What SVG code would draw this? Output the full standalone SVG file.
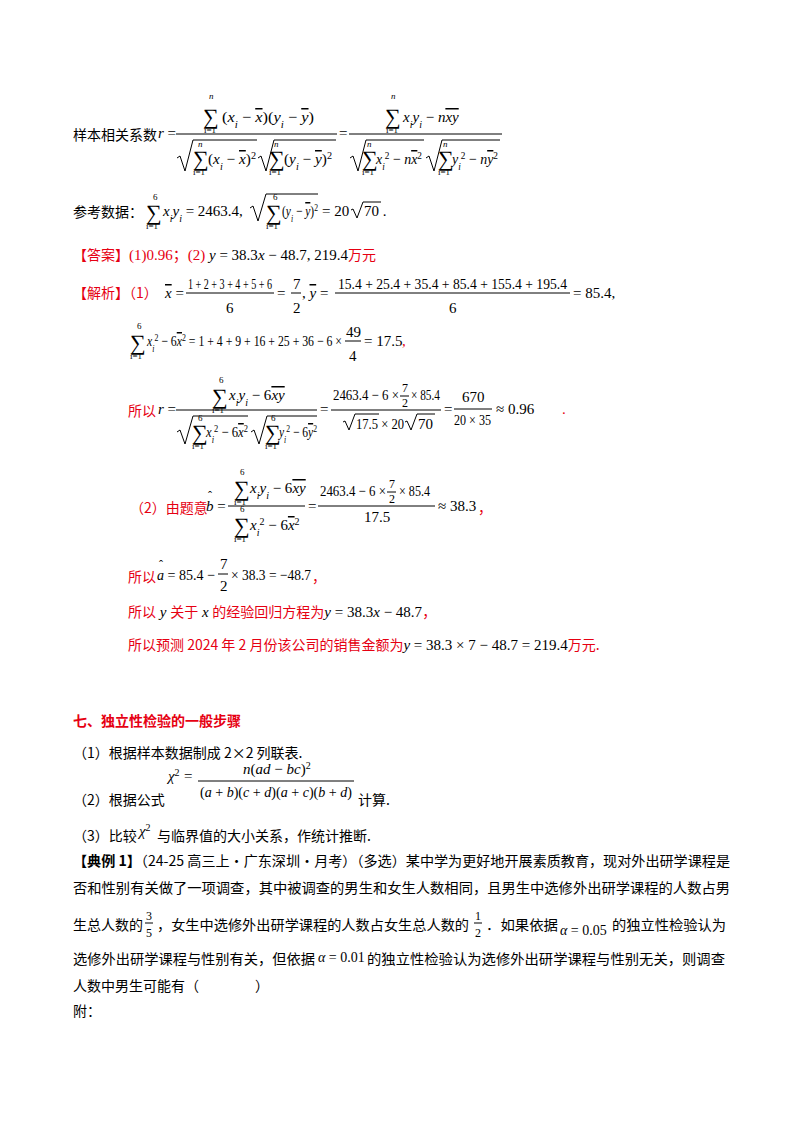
<svg xmlns="http://www.w3.org/2000/svg" width="800" height="1132" viewBox="0 0 800 1132">
<style>
text{font-family:"Liberation Serif","Noto Sans CJK SC",serif;font-size:15px;fill:#000}
.c{font-family:"Noto Sans CJK SC","Liberation Sans",sans-serif;font-size:14px}
.r{fill:#e60012}
.k{fill:#000}
.b{font-weight:bold}
.i{font-style:italic}
.s{font-size:9px}
.f{font-size:12px}
.S{font-size:22px}
.sub{font-size:10px;baseline-shift:sub}
.sup{font-size:10px;baseline-shift:super}
.o{text-decoration:overline}
.bar{stroke:#000;stroke-width:1}
.rad{fill:none;stroke:#000;stroke-width:1}
</style>
<rect width="800" height="1132" fill="#fff"/>
<g id="formula-r">
<text class="c" x="73" y="140">样本相关系数</text>
<text x="158" y="138"><tspan class="i">r</tspan> =</text>
<text class="S" x="203" y="124">∑</text><text class="s i" x="209" y="99">n</text><text class="s" x="204" y="133">i=1</text>
<text x="222" y="122" textLength="92" lengthAdjust="spacingAndGlyphs">(<tspan class="i">x</tspan><tspan class="sub i">i</tspan> − <tspan class="i o">x</tspan>)(<tspan class="i">y</tspan><tspan class="sub i">i</tspan> − <tspan class="i o">y</tspan>)</text>
<line class="bar" x1="176" y1="134" x2="337" y2="134"/>
<path class="rad" d="M177 158 l3 -2 l5 15 l8 -31 h64"/>
<text class="S" x="193" y="166">∑</text><text class="s i" x="198" y="147">n</text><text class="s" x="193" y="175">i=1</text>
<text x="208" y="164" textLength="48" lengthAdjust="spacingAndGlyphs">(<tspan class="i">x</tspan><tspan class="sub i">i</tspan> − <tspan class="i o">x</tspan>)<tspan class="sup">2</tspan></text>
<path class="rad" d="M258 158 l3 -2 l5 15 l8 -31 h62"/>
<text class="S" x="269" y="166">∑</text><text class="s i" x="274" y="147">n</text><text class="s" x="269" y="175">i=1</text>
<text x="284" y="164" textLength="48" lengthAdjust="spacingAndGlyphs">(<tspan class="i">y</tspan><tspan class="sub i">i</tspan> − <tspan class="i o">y</tspan>)<tspan class="sup">2</tspan></text>
<text x="339" y="138">=</text>
<text class="S" x="385" y="124">∑</text><text class="s i" x="391" y="99">n</text><text class="s" x="386" y="133">i=1</text>
<text x="403" y="122"><tspan class="i">x</tspan><tspan class="sub i">i</tspan><tspan class="i">y</tspan><tspan class="sub i">i</tspan> − <tspan class="i">n</tspan><tspan class="i o">xy</tspan></text>
<line class="bar" x1="349" y1="134" x2="502" y2="134"/>
<path class="rad" d="M350 158 l3 -2 l5 15 l8 -31 h58"/>
<text class="S" x="362" y="166">∑</text><text class="s i" x="367" y="147">n</text><text class="s" x="362" y="175">i=1</text>
<text x="376" y="164" textLength="46" lengthAdjust="spacingAndGlyphs"><tspan class="i">x</tspan><tspan class="sub i">i</tspan><tspan class="sup">2</tspan> − <tspan class="i">n</tspan><tspan class="i o">x</tspan><tspan class="sup">2</tspan></text>
<path class="rad" d="M426 158 l3 -2 l5 15 l8 -31 h58"/>
<text class="S" x="438" y="166">∑</text><text class="s i" x="443" y="147">n</text><text class="s" x="438" y="175">i=1</text>
<text x="452" y="164" textLength="46" lengthAdjust="spacingAndGlyphs"><tspan class="i">y</tspan><tspan class="sub i">i</tspan><tspan class="sup">2</tspan> − <tspan class="i">n</tspan><tspan class="i o">y</tspan><tspan class="sup">2</tspan></text>
</g>
<g id="ref-data">
<text class="c" x="73" y="217">参考数据：</text>
<text class="S" x="146" y="220">∑</text><text class="s" x="153" y="200">6</text><text class="s" x="146" y="229">i=1</text>
<text x="163" y="216"><tspan class="i">x</tspan><tspan class="sub i">i</tspan><tspan class="i">y</tspan><tspan class="sub i">i</tspan> = 2463.4,</text>
<path class="rad" d="M250 208 l3 -2 l5 15 l8 -27 h52"/>
<text class="S" x="266" y="220">∑</text><text class="s" x="273" y="200">6</text><text class="s" x="266" y="229">i=1</text>
<text x="282" y="216" textLength="36" lengthAdjust="spacingAndGlyphs">(<tspan class="i">y</tspan><tspan class="sub i">i</tspan> − <tspan class="i o">y</tspan>)<tspan class="sup">2</tspan></text>
<text x="322" y="216">= 20</text>
<path class="rad" d="M351 210 l2 -1 l4 9 l6 -16 h18"/>
<text x="364" y="216">70 .</text>
</g>
<g id="answer">
<text x="73" y="260"><tspan class="c r">【答案】</tspan><tspan class="r">(1)0.96；(2)</tspan><tspan class="i"> y</tspan> = 38.3<tspan class="i">x</tspan> − 48.7, 219.4<tspan class="c r">万元</tspan></text>
</g>
<g id="analysis1">
<text class="c r" x="73" y="298">【解析】（1）</text>
<text x="165" y="298"><tspan class="i o">x</tspan> =</text>
<text x="188" y="289" textLength="84" lengthAdjust="spacingAndGlyphs">1 + 2 + 3 + 4 + 5 + 6</text>
<line class="bar" x1="186" y1="293" x2="274" y2="293"/>
<text x="226" y="313">6</text>
<text x="277" y="298">=</text>
<text x="293" y="289">7</text><line class="bar" x1="291" y1="293" x2="301" y2="293"/><text x="293" y="313">2</text>
<text x="302" y="298">, <tspan class="i o">y</tspan> =</text>
<text x="338" y="289" textLength="229" lengthAdjust="spacingAndGlyphs">15.4 + 25.4 + 35.4 + 85.4 + 155.4 + 195.4</text>
<line class="bar" x1="335" y1="293" x2="570" y2="293"/>
<text x="449" y="313">6</text>
<text x="573" y="298">= 85.4,</text>
<text class="S" x="130" y="350">∑</text><text class="s" x="137" y="329">6</text><text class="s" x="130" y="359">i=1</text>
<text x="147" y="346" textLength="195" lengthAdjust="spacingAndGlyphs"><tspan class="i">x</tspan><tspan class="sub i">i</tspan><tspan class="sup">2</tspan> − 6<tspan class="i o">x</tspan><tspan class="sup">2</tspan> = 1 + 4 + 9 + 16 + 25 + 36 − 6 ×</text>
<text x="346" y="337">49</text><line class="bar" x1="345" y1="341" x2="361" y2="341"/><text x="349" y="361">4</text>
<text x="364" y="346">= 17.5</text><text class="r" x="402" y="346">,</text>
<text class="c r" x="128" y="416">所以</text>
<text x="158" y="414"><tspan class="i">r</tspan> =</text>
<text class="S" x="212" y="404">∑</text><text class="s" x="219" y="383">6</text><text class="s" x="212" y="413">i=1</text>
<text x="229" y="400"><tspan class="i">x</tspan><tspan class="sub i">i</tspan><tspan class="i">y</tspan><tspan class="sub i">i</tspan> − 6<tspan class="i o">xy</tspan></text>
<line class="bar" x1="176" y1="410" x2="317" y2="410"/>
<path class="rad" d="M177 432 l3 -2 l5 14 l8 -28 h55"/>
<text class="S" x="192" y="440">∑</text><text class="s" x="198" y="421">6</text><text class="s" x="192" y="449">i=1</text>
<text x="206" y="437" textLength="42" lengthAdjust="spacingAndGlyphs"><tspan class="i">x</tspan><tspan class="sub i">i</tspan><tspan class="sup">2</tspan> − 6<tspan class="i o">x</tspan><tspan class="sup">2</tspan></text>
<path class="rad" d="M251 432 l3 -2 l5 14 l8 -28 h50"/>
<text class="S" x="265" y="440">∑</text><text class="s" x="271" y="421">6</text><text class="s" x="265" y="449">i=1</text>
<text x="279" y="437" textLength="38" lengthAdjust="spacingAndGlyphs"><tspan class="i">y</tspan><tspan class="sub i">i</tspan><tspan class="sup">2</tspan> − 6<tspan class="i o">y</tspan><tspan class="sup">2</tspan></text>
<text x="320" y="414">=</text>
<text x="333" y="400" textLength="66" lengthAdjust="spacingAndGlyphs">2463.4 − 6 ×</text><text x="402" y="392" class="f">7</text><line class="bar" x1="400" y1="396" x2="409" y2="396"/><text x="402" y="407" class="f">2</text><text x="411" y="400" textLength="29" lengthAdjust="spacingAndGlyphs">× 85.4</text>
<line class="bar" x1="331" y1="410" x2="441" y2="410"/>
<path class="rad" d="M343 422 l2 -1 l4 9 l6 -16 h24"/>
<text x="356" y="429" textLength="48" lengthAdjust="spacingAndGlyphs">17.5 × 20</text>
<path class="rad" d="M405 422 l2 -1 l4 9 l6 -16 h18"/>
<text x="418" y="429">70</text>
<text x="444" y="414">=</text>
<text x="462" y="402">670</text><line class="bar" x1="454" y1="409" x2="492" y2="409"/><text x="454" y="425" textLength="37" lengthAdjust="spacingAndGlyphs">20 × 35</text>
<text x="496" y="414">≈ 0.96</text><text class="r" x="562" y="414">.</text>
</g>
<g id="analysis2">
<text class="c r" x="130" y="513">（2）由题意</text>
<text x="206" y="511"><tspan class="i">b</tspan> =</text><text x="208" y="500" class="f">ˆ</text>
<text class="S" x="234" y="496">∑</text><text class="s" x="240" y="475">6</text><text class="s" x="234" y="505">i=1</text>
<text x="250" y="493"><tspan class="i">x</tspan><tspan class="sub i">i</tspan><tspan class="i">y</tspan><tspan class="sub i">i</tspan> − 6<tspan class="i o">xy</tspan></text>
<line class="bar" x1="228" y1="506" x2="305" y2="506"/>
<text class="S" x="234" y="533">∑</text><text class="s" x="240" y="512">6</text><text class="s" x="234" y="542">i=1</text>
<text x="250" y="530"><tspan class="i">x</tspan><tspan class="sub i">i</tspan><tspan class="sup">2</tspan> − 6<tspan class="i o">x</tspan><tspan class="sup">2</tspan></text>
<text x="308" y="511">=</text>
<text x="320" y="496" textLength="66" lengthAdjust="spacingAndGlyphs">2463.4 − 6 ×</text><text x="389" y="488" class="f">7</text><line class="bar" x1="387" y1="492" x2="396" y2="492"/><text x="389" y="503" class="f">2</text><text x="399" y="496" textLength="31" lengthAdjust="spacingAndGlyphs">× 85.4</text>
<line class="bar" x1="318" y1="506" x2="435" y2="506"/>
<text x="364" y="522">17.5</text>
<text x="438" y="511">≈ 38.3</text><text class="c r" x="478" y="513">，</text>
<text class="c r" x="128" y="582">所以</text>
<text x="157" y="580" textLength="58" lengthAdjust="spacingAndGlyphs"><tspan class="i">a</tspan> = 85.4 −</text><text x="159" y="569" class="f">ˆ</text>
<text x="220" y="569">7</text><line class="bar" x1="218" y1="574" x2="228" y2="574"/><text x="220" y="591">2</text>
<text x="231" y="580" textLength="80" lengthAdjust="spacingAndGlyphs">× 38.3 = −48.7</text><text class="c r" x="312" y="582">，</text>
<text x="128" y="617"><tspan class="c r">所以</tspan><tspan class="i"> y </tspan><tspan class="c r">关于</tspan><tspan class="i"> x </tspan><tspan class="c r">的经验回归方程为</tspan><tspan class="i">y</tspan> = 38.3<tspan class="i">x</tspan> − 48.7<tspan class="c r">，</tspan></text>
<text x="128" y="650"><tspan class="c r">所以预测 2024 年 2 月份该公司的销售金额为</tspan><tspan class="i">y</tspan> = 38.3 × 7 − 48.7 = 219.4<tspan class="c r">万元.</tspan></text>
</g>
<g id="section7">
<text class="c r b" x="73" y="726">七、独立性检验的一般步骤</text>
<text class="c" x="73" y="758">（1）根据样本数据制成 2×2 列联表.</text>
<text class="i" x="168" y="781">χ<tspan class="sup" style="font-style:normal">2</tspan></text><text x="184" y="781">=</text>
<text x="243" y="774"><tspan class="i">n</tspan>(<tspan class="i">ad</tspan> − <tspan class="i">bc</tspan>)<tspan class="sup">2</tspan></text>
<line class="bar" x1="198" y1="781" x2="354" y2="781"/>
<text x="200" y="797" textLength="152" lengthAdjust="spacingAndGlyphs">(<tspan class="i">a</tspan> + <tspan class="i">b</tspan>)(<tspan class="i">c</tspan> + <tspan class="i">d</tspan>)(<tspan class="i">a</tspan> + <tspan class="i">c</tspan>)(<tspan class="i">b</tspan> + <tspan class="i">d</tspan>)</text>
<text class="c" x="73" y="805">（2）根据公式</text><text class="c" x="358" y="805">计算.</text>
<text class="c" x="73" y="841">（3）比较</text><text class="i" x="139" y="836">χ<tspan class="sup" style="font-style:normal">2</tspan></text><text class="c" x="157" y="841">与临界值的大小关系，作统计推断.</text>
<text class="c" x="73" y="866" textLength="657" lengthAdjust="spacingAndGlyphs"><tspan class="b">【典例 1】</tspan>（24-25 高三上·广东深圳·月考）（多选）某中学为更好地开展素质教育，现对外出研学课程是</text>
<text class="c" x="73" y="893" textLength="657" lengthAdjust="spacingAndGlyphs">否和性别有关做了一项调查，其中被调查的男生和女生人数相同，且男生中选修外出研学课程的人数占男</text>
<text class="c" x="73" y="930">生总人数的</text>
<text x="146" y="920" class="f">3</text><line class="bar" x1="145" y1="923" x2="153" y2="923"/><text x="146" y="937" class="f">5</text>
<text class="c" x="157" y="930" textLength="312" lengthAdjust="spacingAndGlyphs">，女生中选修外出研学课程的人数占女生总人数的</text>
<text x="475" y="920" class="f">1</text><line class="bar" x1="474" y1="923" x2="482" y2="923"/><text x="475" y="937" class="f">2</text>
<text class="c" x="486" y="930" textLength="72" lengthAdjust="spacingAndGlyphs">．如果依据</text>
<text x="560" y="935" style="font-size:14px"><tspan class="i">α</tspan> = 0.05</text>
<text class="c" x="612" y="930" textLength="114" lengthAdjust="spacingAndGlyphs">的独立性检验认为</text>
<text class="c" x="73" y="964" textLength="242" lengthAdjust="spacingAndGlyphs">选修外出研学课程与性别有关，但依据</text>
<text x="318" y="962" style="font-size:14px"><tspan class="i">α</tspan> = 0.01</text>
<text class="c" x="367" y="964" textLength="358" lengthAdjust="spacingAndGlyphs">的独立性检验认为选修外出研学课程与性别无关，则调查</text>
<text class="c" x="73" y="991">人数中男生可能有（　　　　）</text>
<text class="c" x="73" y="1016">附：</text>
</g>
</svg>
